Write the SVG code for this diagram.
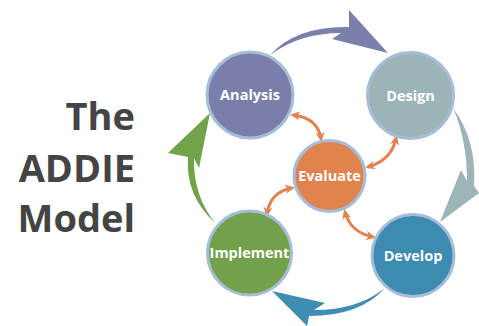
<svg xmlns="http://www.w3.org/2000/svg" width="479" height="326" viewBox="0 0 479 326">
<style>
.title{font-family:"Open Sans","Liberation Sans",sans-serif;font-weight:bold;font-size:38px;fill:#444444;text-anchor:end}
.lbl{font-family:"Open Sans","Liberation Sans",sans-serif;font-weight:bold;font-size:14.5px;fill:#ffffff;text-anchor:middle}
.node{stroke:#a5bdd6;stroke-width:3}
.dbl{fill:none;stroke:#e0834f;stroke-width:3;marker-start:url(#oh);marker-end:url(#oh)}
</style>
<defs>
<marker id="oh" viewBox="0 -5 10 10" refX="7" refY="0" markerWidth="10" markerHeight="10" markerUnits="userSpaceOnUse" orient="auto-start-reverse">
<path d="M0,-4.5 L10,0 L0,4.5 L3,0 Z" fill="#e0834f"/>
</marker>
</defs>
<rect width="479" height="326" fill="#ffffff"/>
<g id="title">
<text class="title" x="135" y="130">The</text>
<text class="title" x="135" y="182">ADDIE</text>
<text class="title" x="135" y="232">Model</text>
</g>
<g id="connectors">
<path d="M270,55 Q296,26 349,27 L349,10 L388,53 L332,39 L341,33 Q300,33 270,55 Z" fill="#7b80ab"/>
<path d="M453,108 Q477,140 474,186 L479,193 L440,222 L461,170 L467,181 Q467,140 453,108 Z" fill="#9db5b7"/>
<path d="M385,288 Q360,316 309,316 L307,326 L272,291 L325,303 L314,310 Q358,310 385,288 Z" fill="#3f8db1"/>
<path d="M215,223 Q185,195 188,157 L168,153 L210,113 L199,168 L194,158 Q193,195 215,223 Z" fill="#72a24a"/>
<path class="dbl" d="M293,115 Q318,118 321,139"/>
<path class="dbl" d="M368,167 Q392,160 396,138"/>
<path class="dbl" d="M292,188 Q270,192 267,214"/>
<path class="dbl" d="M345,212 Q350,232 373,237"/>
</g>
<g id="analysis">
<circle class="node" cx="250" cy="95" r="43" fill="#7a7eab"/>
<text class="lbl" x="250" y="100">Analysis</text>
</g>
<g id="design">
<circle class="node" cx="410.5" cy="95.5" r="43" fill="#9db4b6"/>
<text class="lbl" x="410.5" y="100.5">Design</text>
</g>
<g id="evaluate">
<circle class="node" cx="329.5" cy="176" r="35.5" fill="#e0834f"/>
<text class="lbl" x="329.5" y="181">Evaluate</text>
</g>
<g id="implement">
<circle class="node" cx="249.5" cy="253" r="42" fill="#73a14b"/>
<text class="lbl" x="249.5" y="258">Implement</text>
</g>
<g id="develop">
<circle class="node" cx="413" cy="255.5" r="41" fill="#3e8bb0"/>
<text class="lbl" x="413" y="260.5">Develop</text>
</g>
</svg>
